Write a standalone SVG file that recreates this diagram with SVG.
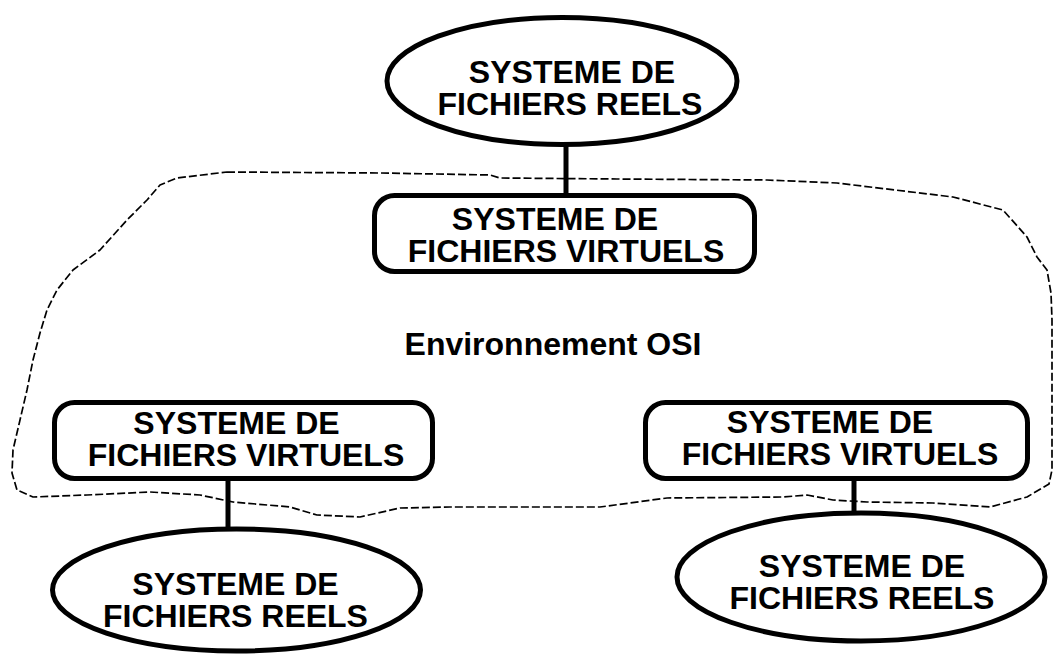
<svg xmlns="http://www.w3.org/2000/svg" width="1053" height="655" viewBox="0 0 1053 655">
  <style>
    .shape { fill: #ffffff; stroke: #000000; stroke-width: 5; }
    .link { stroke: #000000; stroke-width: 5; fill: none; }
    .zone { fill: none; stroke: #000000; stroke-width: 1.7; stroke-dasharray: 8 3; stroke-linejoin: round; }
    .lbl { font-family: "Liberation Sans", Arial, sans-serif; font-weight: bold; font-size: 32px; fill: #000000; text-anchor: middle; }
  </style>
  <rect width="1053" height="655" fill="#ffffff"/>

  <!-- OSI environment boundary -->
  <g id="osi-zone">
    <path class="zone" d="M227 172 L380 173 L490 175 L500 178 L617 179 L767 180 L837 183 L953 197 L1003 210 L1027 237 L1037 257 L1047 270 L1051 293 L1052 320 L1052 470 L1049 484 L1027 497 L990 507 L933 503 L867 502 L833 500 L807 495 L783 497 L667 498 L600 507 L450 507 L400 508 L360 517 L317 515 L290 507 L233 502 L200 495 L150 492 L87 495 L33 497 L17 490 L12 473 L13 450 L20 420 L27 390 L33 360 L40 333 L47 310 L57 290 L73 270 L100 250 L127 220 L147 200 L160 185 L177 178 Z"/>
    <text class="lbl" x="553" y="355">Environnement OSI</text>
  </g>

  <!-- connectors -->
  <g id="connectors">
    <line class="link" x1="566" y1="145" x2="566" y2="195"/>
    <line class="link" x1="228" y1="478" x2="228" y2="529"/>
    <line class="link" x1="854" y1="478" x2="854" y2="512"/>
  </g>

  <!-- top real file system -->
  <g id="real-top">
    <ellipse class="shape" cx="562" cy="81" rx="175" ry="63.5"/>
    <text class="lbl"><tspan x="572" y="83">SYSTEME DE</tspan><tspan x="570" y="115">FICHIERS REELS</tspan></text>
  </g>

  <!-- top virtual file system -->
  <g id="virtual-top">
    <rect class="shape" x="374.5" y="195.5" width="380" height="76" rx="20"/>
    <text class="lbl"><tspan x="555" y="230">SYSTEME DE</tspan><tspan x="566" y="262">FICHIERS VIRTUELS</tspan></text>
  </g>

  <!-- left virtual file system -->
  <g id="virtual-left">
    <rect class="shape" x="54.5" y="402.5" width="378" height="76" rx="20"/>
    <text class="lbl"><tspan x="236.5" y="434">SYSTEME DE</tspan><tspan x="246" y="466">FICHIERS VIRTUELS</tspan></text>
  </g>

  <!-- right virtual file system -->
  <g id="virtual-right">
    <rect class="shape" x="645.5" y="402.5" width="382" height="76" rx="20"/>
    <text class="lbl"><tspan x="830" y="433">SYSTEME DE</tspan><tspan x="840" y="465">FICHIERS VIRTUELS</tspan></text>
  </g>

  <!-- left real file system -->
  <g id="real-left">
    <ellipse class="shape" cx="236.5" cy="590" rx="184" ry="61"/>
    <text class="lbl"><tspan x="235.5" y="595">SYSTEME DE</tspan><tspan x="235.5" y="627">FICHIERS REELS</tspan></text>
  </g>

  <!-- right real file system -->
  <g id="real-right">
    <ellipse class="shape" cx="861" cy="577" rx="184" ry="64"/>
    <text class="lbl"><tspan x="862" y="577">SYSTEME DE</tspan><tspan x="862" y="609">FICHIERS REELS</tspan></text>
  </g>
</svg>
